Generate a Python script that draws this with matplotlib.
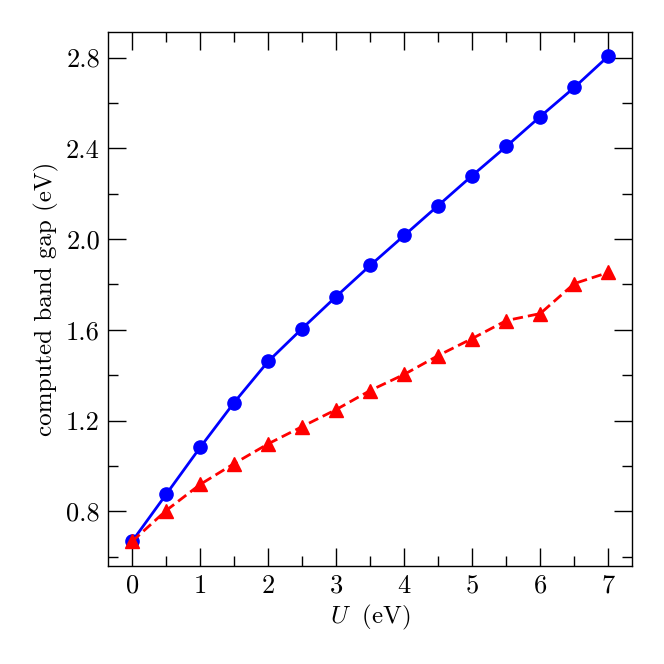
import matplotlib
matplotlib.use("Agg")
import matplotlib.pyplot as plt
from matplotlib.ticker import MultipleLocator, FuncFormatter

plt.rcParams['font.family'] = 'serif'
plt.rcParams['font.serif'] = ['cmr10']
plt.rcParams['mathtext.fontset'] = 'cm'
plt.rcParams['axes.formatter.use_mathtext'] = True
plt.rcParams['axes.unicode_minus'] = False

U = [0, 0.5, 1, 1.5, 2, 2.5, 3, 3.5, 4, 4.5, 5, 5.5, 6, 6.5, 7]
gap_blue = [0.668, 0.875, 1.082, 1.280, 1.461, 1.606, 1.747, 1.884, 2.016, 2.148, 2.280, 2.408, 2.540, 2.668, 2.806]
gap_red = [0.668, 0.804, 0.919, 1.011, 1.098, 1.174, 1.249, 1.333, 1.404, 1.487, 1.562, 1.641, 1.672, 1.804, 1.853]

fig = plt.figure(figsize=(6.64, 6.64), dpi=100)
ax = fig.add_axes([0.163, 0.148, 0.789, 0.804])
ax.plot(U, gap_blue, '-o', color='blue', lw=2, ms=9.5)
ax.plot(U, gap_red, '--^', color='red', lw=2, ms=9.5, dashes=(3.7, 1.8))

for s in ax.spines.values():
    s.set_linewidth(1.0)
ax.xaxis.set_major_locator(MultipleLocator(1))
ax.xaxis.set_minor_locator(MultipleLocator(0.5))
ax.yaxis.set_major_locator(MultipleLocator(0.4))
ax.yaxis.set_minor_locator(MultipleLocator(0.2))
ax.yaxis.set_major_formatter(FuncFormatter(lambda v, p: f"{v:.1f}"))
ax.tick_params(which='both', direction='in', top=True, right=True, labelsize=19)
ax.tick_params(which='major', length=13, width=1, pad=6)
ax.tick_params(which='minor', length=7.5, width=1)
ax.set_xlabel(r'$U\;$ (eV)', fontsize=18, labelpad=4)
ax.set_ylabel('computed band gap (eV)', fontsize=18, labelpad=5)
fig.savefig('out.png', dpi=100)
